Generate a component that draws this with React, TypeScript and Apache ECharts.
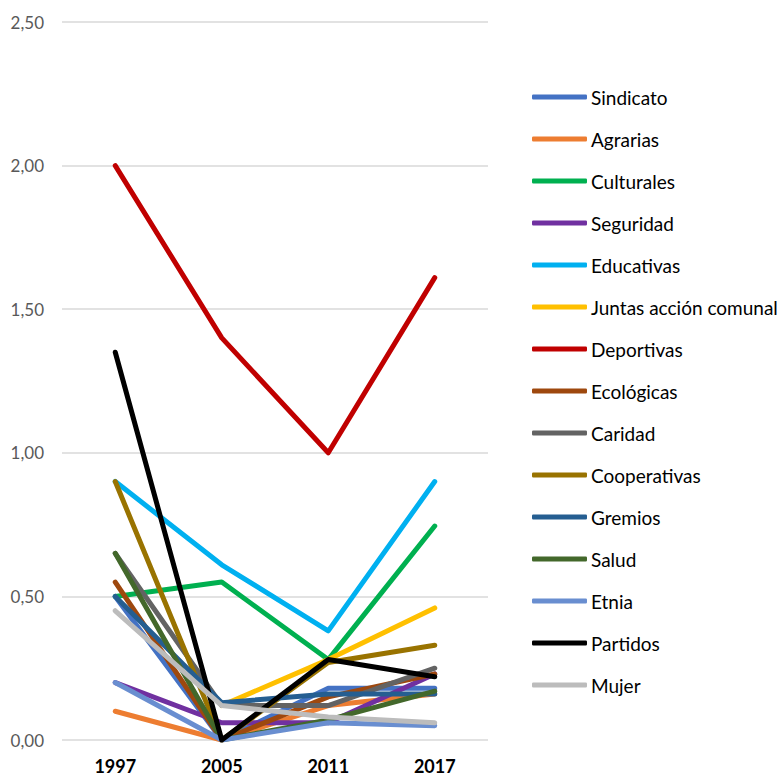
import React, { useEffect, useRef } from "react";
import * as echarts from "echarts";

const years = ["1997", "2005", "2011", "2017"];
const yTicks = { min: 0, max: 2.5, interval: 0.5 };

const names = [
  "Sindicato",
  "Agrarias",
  "Culturales",
  "Seguridad",
  "Educativas",
  "Juntas acción comunal",
  "Deportivas",
  "Ecológicas",
  "Caridad",
  "Cooperativas",
  "Gremios",
  "Salud",
  "Etnia",
  "Partidos",
  "Mujer",
];

const colors = [
  "#4472C4",
  "#ED7D31",
  "#00B050",
  "#7030A0",
  "#00B0F0",
  "#FFC000",
  "#C00000",
  "#9E480E",
  "#636363",
  "#997300",
  "#255E91",
  "#43682B",
  "#698ED0",
  "#000000",
  "#BCBCBC",
];

const sindicato = [0.5, 0, 0.18, 0.18];
const agrarias = [0.1, 0, 0.12, 0.16];
const culturales = [0.5, 0.55, 0.28, 0.745];
const seguridad = [0.2, 0.06, 0.06, 0.23];
const educativas = [0.9, 0.61, 0.38, 0.9];
const juntas = [null, 0.12, 0.28, 0.46];
const deportivas = [2.0, 1.4, 1.0, 1.61];
const ecologicas = [0.55, 0, 0.15, 0.23];
const caridad = [0.65, 0.12, 0.12, 0.25];
const cooperativas = [0.9, 0, 0.27, 0.33];
const gremios = [0.5, 0.13, 0.16, 0.16];
const salud = [0.65, 0, 0.07, 0.17];
const etnia = [0.2, 0, 0.06, 0.05];
const partidos = [1.35, 0, 0.28, 0.22];
const mujer = [0.45, 0.12, 0.08, 0.06];

const values = [
  sindicato,
  agrarias,
  culturales,
  seguridad,
  educativas,
  juntas,
  deportivas,
  ecologicas,
  caridad,
  cooperativas,
  gremios,
  salud,
  etnia,
  partidos,
  mujer,
];

const FONT = "Lato, 'Open Sans', sans-serif";

export default function App() {
  const ref = useRef<HTMLDivElement>(null);
  useEffect(() => {
    if (!ref.current) return;
    const chart = echarts.init(ref.current, undefined, { renderer: "svg" });
    chart.setOption({
      animation: false,
      backgroundColor: "#ffffff",
      grid: { left: 62, right: 295, top: 22, bottom: 36, containLabel: false },
      xAxis: {
        type: "category",
        data: years,
        boundaryGap: true,
        axisLine: { show: false },
        axisTick: { show: false },
        axisLabel: {
          fontFamily: FONT,
          fontSize: 18,
          lineHeight: 18,
          fontWeight: "bold",
          color: "#000000",
          margin: 17,
        },
      },
      yAxis: {
        type: "value",
        min: yTicks.min,
        max: yTicks.max,
        interval: yTicks.interval,
        axisLine: { show: false },
        axisTick: { show: false },
        splitLine: { lineStyle: { color: "#d9d9d9", width: 1.5 } },
        axisLabel: {
          fontFamily: FONT,
          fontSize: 17,
          color: "#595959",
          margin: 18,
          formatter: (v: number) => v.toFixed(2).replace(".", ","),
        },
      },
      legend: {
        orient: "vertical",
        left: 527,
        top: 82,
        icon: "roundRect",
        itemWidth: 55,
        itemHeight: 5,
        itemGap: 22,
        textStyle: {
          fontFamily: FONT,
          fontSize: 19,
          color: "#000000",
          lineHeight: 20,
          padding: [0, 0, 0, -1],
        },
        data: names,
      },
      series: names.map((n, i) => ({
        name: n,
        type: "line",
        data: values[i],
        symbol: "none",
        connectNulls: false,
        color: colors[i],
        lineStyle: { width: 5, color: colors[i], cap: "round", join: "round" },
        itemStyle: { color: colors[i] },
      })),
    });
    return () => chart.dispose();
  }, []);
  return (
    <div
      ref={ref}
      style={{ position: "fixed", left: 0, top: 0, width: 783, height: 776 }}
    />
  );
}
